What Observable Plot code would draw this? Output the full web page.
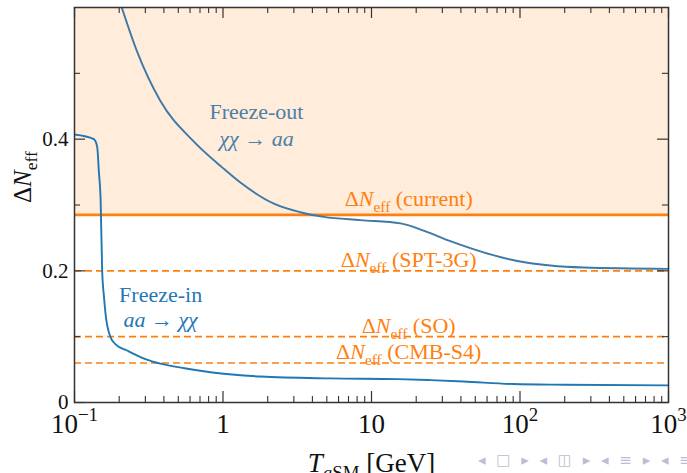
<!DOCTYPE html>
<html><head><meta charset="utf-8">
<script src="https://cdn.jsdelivr.net/npm/d3@7"></script>
<script src="https://cdn.jsdelivr.net/npm/@observablehq/plot@0.6"></script>
<style>
body{margin:0;background:#fff;}
#wrap{position:relative;width:687px;height:473px;overflow:hidden;}
#wrap svg, #wrap svg text, #wrap svg tspan{font-family:"Liberation Serif","Times New Roman",serif !important;}
#nav{position:absolute;left:478px;top:451px;font:15px "DejaVu Sans";color:#bcbcd2;white-space:pre;letter-spacing:3px;}
</style>
</head><body><div id="wrap"><div id="nav">◂ □ ▸ ◂ ◫ ▸ ◂ ≡ ▸ ◂ ≡</div></div>
<script>
// ---- data ----
const freezeOutT = [0.2, 0.264, 0.379, 0.632, 1.0, 1.31, 2.2, 3.32, 4.77, 8.43, 15.7, 22.4, 34, 56.8, 96, 160, 268, 1000];
const freezeOutN = [0.612, 0.533, 0.458, 0.397, 0.356, 0.334, 0.302, 0.289, 0.282, 0.277, 0.272, 0.261, 0.245, 0.228, 0.215, 0.208, 0.205, 0.203];
const freezeInT = [0.1, 0.135, 0.142, 0.146, 0.150, 0.1536, 0.158, 0.162, 0.175, 0.19, 0.226, 0.3, 0.379, 0.55, 0.824, 1.79, 5.3, 15, 25, 41.7, 90, 200, 1000];
const freezeInN = [0.407, 0.400, 0.389, 0.35, 0.306, 0.2, 0.16, 0.134, 0.099, 0.088, 0.079, 0.066, 0.059, 0.052, 0.046, 0.0394, 0.0366, 0.0355, 0.034, 0.032, 0.028, 0.027, 0.026];
const limitNames = ["current", "SPT-3G", "SO", "CMB-S4"];
const limitValues = [0.285, 0.2, 0.1, 0.06];
const xDomain = [0.1, 1000];
const yDomain = [0, 0.6];
const xTickValues = [0.1, 1, 10, 100, 1000];
const xTickLabels = ["10^{−1}", "1", "10", "10^{2}", "10^{3}"];
const yTickValues = [0, 0.2, 0.4];
const yTickLabels = ["0", "0.2", "0.4"];
const yMinorValues = [0.1, 0.3, 0.5];
const annotFreezeOut = {T: 1.68, lines: ["Freeze-out", "$χχ$ → $aa$"], N: [0.43, 0.389]};
const annotFreezeIn = {T: 0.38, lines: ["Freeze-in", "$aa$ → $χχ$"], N: [0.153, 0.115]};
const labelT = 17.8;

// ---- derived ----
const xMinor = [];
for (const d of [0.1, 1, 10, 100]) for (let k = 2; k <= 9; k++) xMinor.push(d * k);
const fo = freezeOutT.map((t, i) => ({t, n: freezeOutN[i]}));
const fi = freezeInT.map((t, i) => ({t, n: freezeInN[i]}));
const limits = limitNames.map((name, i) => ({name, v: limitValues[i]}));
const xt = xTickValues.map((v, i) => ({v, l: xTickLabels[i]}));
const yt = yTickValues.map((v, i) => ({v, l: yTickLabels[i]}));
const annot = a => a.lines.map((l, i) => ({t: a.T, n: a.N[i], l}));

const ORANGE = "#ff7f0e", BLUE = "#1f77b4", BLUE2 = "#3d79a6", AX = "#333";
const W = 687, H = 473, ML = 74, MR = 19, MT = 7, MB = 71;
const FW = W - ML - MR, FH = H - MT - MB;
const MAJ = 11, MIN = 6;
const FONT = "'Liberation Serif', 'Times New Roman', serif";

const chart = Plot.plot({
  width: W, height: H,
  marginLeft: ML, marginRight: MR, marginTop: MT, marginBottom: MB,
  x: {type: "log", domain: xDomain},
  y: {domain: yDomain},
  axis: null,
  style: {fontFamily: FONT, background: "white", overflow: "visible"},
  marks: [
    Plot.rect([limitValues[0]], {x1: () => xDomain[0], x2: () => xDomain[1], y1: d => d, y2: () => yDomain[1], fill: "#ffecdb"}),
    Plot.ruleY([limitValues[0]], {stroke: ORANGE, strokeWidth: 2.6}),
    Plot.ruleY(limitValues.slice(1), {stroke: ORANGE, strokeWidth: 1.7, strokeDasharray: "7,4"}),
    Plot.line(fo, {x: "t", y: "n", stroke: BLUE2, strokeWidth: 1.9, curve: "monotone-x", clip: true}),
    Plot.line(fi, {x: "t", y: "n", stroke: BLUE, strokeWidth: 1.9, curve: "monotone-x", clip: true}),
    Plot.text(limits.slice(0, 1), {x: () => labelT, y: "v", text: d => `Δ$N$_{eff} (${d.name})`, fill: ORANGE, fontSize: 22, lineAnchor: "bottom", dy: -9}),
    Plot.text(limits.slice(1), {x: () => labelT, y: "v", text: d => `Δ$N$_{eff} (${d.name})`, fill: ORANGE, fontSize: 22, lineAnchor: "bottom", dy: -4}),
    Plot.text(annot(annotFreezeOut), {x: "t", y: "n", text: "l", fill: "#4a7fa8", fontSize: 22, lineAnchor: "bottom"}),
    Plot.text(annot(annotFreezeIn), {x: "t", y: "n", text: "l", fill: BLUE, fontSize: 22, lineAnchor: "bottom"}),
    // ticks (inward, mirrored)
    Plot.tickX(xTickValues, {x: d => d, stroke: AX, strokeWidth: 1.2, insetTop: FH - MAJ}),
    Plot.tickX(xMinor, {x: d => d, stroke: AX, strokeWidth: 1.1, insetTop: FH - MIN}),
    Plot.tickX(xTickValues, {x: d => d, stroke: AX, strokeWidth: 1.2, insetBottom: FH - MAJ}),
    Plot.tickX(xMinor, {x: d => d, stroke: AX, strokeWidth: 1.1, insetBottom: FH - MIN}),
    Plot.tickY(yTickValues, {y: d => d, stroke: AX, strokeWidth: 1.2, insetRight: FW - MAJ}),
    Plot.tickY(yMinorValues, {y: d => d, stroke: AX, strokeWidth: 1.1, insetRight: FW - MIN}),
    Plot.tickY(yTickValues, {y: d => d, stroke: AX, strokeWidth: 1.2, insetLeft: FW - MAJ}),
    Plot.tickY(yMinorValues, {y: d => d, stroke: AX, strokeWidth: 1.1, insetLeft: FW - MIN}),
    // tick labels
    Plot.text(xt, {x: "v", text: "l", frameAnchor: "bottom", lineAnchor: "bottom", dy: 30, fontSize: 27, fill: "#111"}),
    Plot.text(yt, {y: "v", text: "l", frameAnchor: "left", textAnchor: "end", lineAnchor: "middle", dx: -6, fontSize: 21, fill: "#111"}),
    // axis labels
    Plot.text(["$T$_{$a$SM} [GeV]"], {text: d => d, frameAnchor: "bottom", lineAnchor: "bottom", dy: 69, fontSize: 27, fill: "#111"}),
    Plot.text(["Δ$N$_{eff}"], {text: d => d, frameAnchor: "left", rotate: -90, lineAnchor: "middle", dx: -52, dy: -2, fontSize: 25, fill: "#111"}),
    Plot.frame({stroke: AX, strokeWidth: 1.5})
  ]
});
chart.style.fontFamily = FONT;
document.getElementById("wrap").prepend(chart);

// rich text: $..$ italic, _{..} subscript, ^{..} superscript
function rich(el, str) {
  const fs = parseFloat(getComputedStyle(el).fontSize) || 16;
  const segs = [];
  let italic = false, mode = 0, buf = "";
  const push = () => { if (buf) segs.push({t: buf, it: italic, m: mode}); buf = ""; };
  for (let i = 0; i < str.length; i++) {
    const c = str[i];
    if (c === "$") { push(); italic = !italic; }
    else if ((c === "_" || c === "^") && str[i + 1] === "{") { push(); mode = c === "_" ? 1 : 2; i++; }
    else if (c === "}" && mode) { push(); mode = 0; }
    else buf += c;
  }
  push();
  el.textContent = "";
  let cur = 0;
  for (const s of segs) {
    const ts = document.createElementNS("http://www.w3.org/2000/svg", "tspan");
    const target = s.m === 1 ? 0.27 * fs : s.m === 2 ? -0.42 * fs : 0;
    if (target !== cur) ts.setAttribute("dy", target - cur);
    cur = target;
    if (s.m) ts.setAttribute("font-size", 0.7 * fs);
    if (s.it) ts.setAttribute("font-style", "italic");
    ts.textContent = s.t;
    el.appendChild(ts);
  }
}
d3.select(chart).selectAll("text").each(function () {
  const s = this.textContent;
  if (/[$_^]/.test(s)) rich(this, s);
});
</script></body></html>
